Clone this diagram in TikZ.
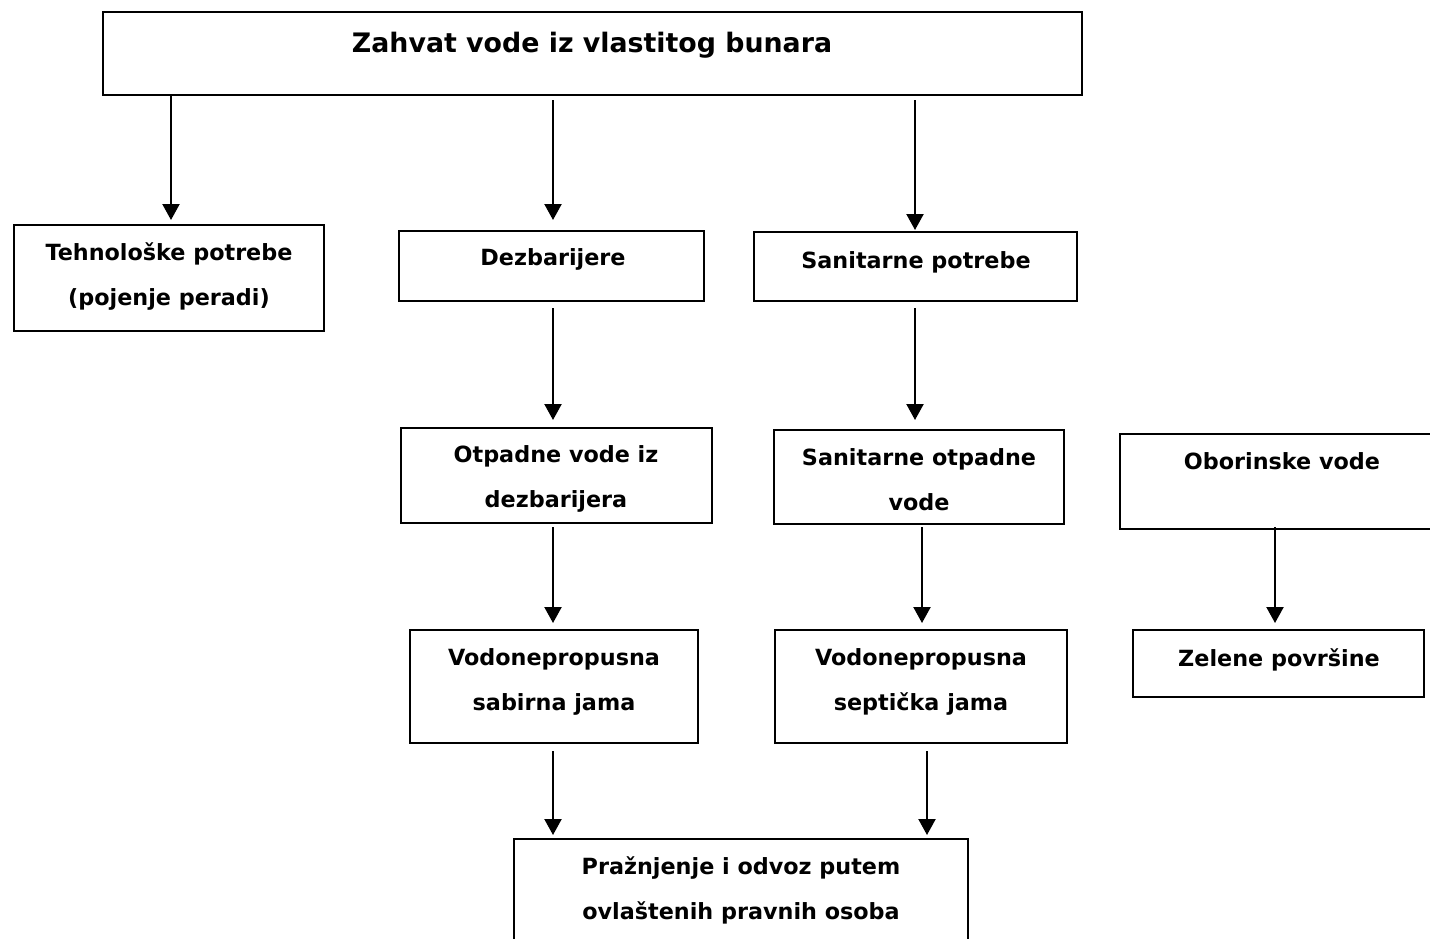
\documentclass[tikz,border=0pt]{standalone}
\usepackage{fontspec}
\setmainfont{DejaVu Sans}
\usetikzlibrary{arrows.meta}
\begin{document}
\begin{tikzpicture}[x=1pt,y=-1pt,
  box/.style={draw=black,line width=2.6pt,rectangle,inner sep=0pt},
  txt/.style={font=\bfseries\fontsize{22.3}{45}\selectfont,align=center,inner sep=0pt,text depth=0pt},
  arr/.style={line width=2.2pt,-{Triangle[length=16pt,width=17pt]}}]
\useasboundingbox (0,0) rectangle (1430,938);
% boxes
\node[box,minimum width=979pt,minimum height=83pt] (top) at (592.5,53.5) {};
\node[box,minimum width=310pt,minimum height=106pt] (teh) at (169,278) {};
\node[box,minimum width=305pt,minimum height=70pt] (dez) at (551.5,266) {};
\node[box,minimum width=323pt,minimum height=69pt] (sanp) at (915.5,266.5) {};
\node[box,minimum width=311pt,minimum height=95pt] (otp) at (556.5,475.5) {};
\node[box,minimum width=290pt,minimum height=94pt] (sano) at (919,477) {};
\node[box,minimum width=320pt,minimum height=95pt] (obo) at (1280,481.5) {};
\node[box,minimum width=288pt,minimum height=113pt] (vsab) at (554,686.5) {};
\node[box,minimum width=292pt,minimum height=113pt] (vsep) at (921,686.5) {};
\node[box,minimum width=291pt,minimum height=67pt] (zel) at (1278.5,663.5) {};
\node[box,minimum width=454pt,minimum height=111pt] (praz) at (741,894.5) {};
% texts
\node[txt,font=\bfseries\fontsize{26.8}{45}\selectfont] (ttop) at (592,42) {Zahvat vode iz vlastitog bunara};
\node[txt] (tteh) at (169,274.5) {Tehnološke potrebe\\(pojenje peradi)};
\node[txt] (tdez) at (553,257) {Dezbarijere};
\node[txt] (tsanp) at (916,260) {Sanitarne potrebe};
\node[txt] (totp) at (556,476.5) {Otpadne vode iz\\dezbarijera};
\node[txt] (tsano) at (919,479.5) {Sanitarne otpadne\\vode};
\node[txt] (tobo) at (1282,461) {Oborinske vode};
\node[txt] (tvsab) at (554,680) {Vodonepropusna\\sabirna jama};
\node[txt] (tvsep) at (921,680) {Vodonepropusna\\septička jama};
\node[txt] (tzel) at (1279,658) {Zelene površine};
\node[txt] (tpraz) at (741,888.5) {Pražnjenje i odvoz putem\\ovlaštenih pravnih osoba};
% connector ends
\coordinate (a1s) at (171,95);  \coordinate (a1e) at (171,220);
\coordinate (a2s) at (553,100); \coordinate (a2e) at (553,220);
\coordinate (a3s) at (915,100); \coordinate (a3e) at (915,230);
\coordinate (a4s) at (553,308); \coordinate (a4e) at (553,420);
\coordinate (a5s) at (915,308); \coordinate (a5e) at (915,420);
\coordinate (a6s) at (553,527); \coordinate (a6e) at (553,623);
\coordinate (a7s) at (922,527); \coordinate (a7e) at (922,623);
\coordinate (a8s) at (1275,527); \coordinate (a8e) at (1275,623);
\coordinate (a9s) at (553,751); \coordinate (a9e) at (553,835);
\coordinate (a10s) at (927,751); \coordinate (a10e) at (927,835);
\draw[arr] (a1s) -- (a1e);
\draw[arr] (a2s) -- (a2e);
\draw[arr] (a3s) -- (a3e);
\draw[arr] (a4s) -- (a4e);
\draw[arr] (a5s) -- (a5e);
\draw[arr] (a6s) -- (a6e);
\draw[arr] (a7s) -- (a7e);
\draw[arr] (a8s) -- (a8e);
\draw[arr] (a9s) -- (a9e);
\draw[arr] (a10s) -- (a10e);
\end{tikzpicture}
\end{document}
